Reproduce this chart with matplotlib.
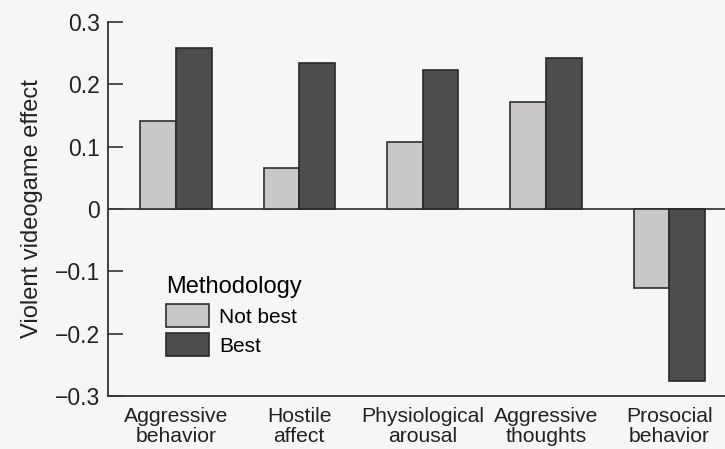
import matplotlib
matplotlib.use("Agg")
import matplotlib.pyplot as plt
import numpy as np

categories = ["Aggressive\nbehavior", "Hostile\naffect", "Physiological\narousal",
              "Aggressive\nthoughts", "Prosocial\nbehavior"]
not_best = [0.141, 0.066, 0.108, 0.172, -0.127]
best = [0.258, 0.234, 0.223, 0.243, -0.276]
yticks = [-0.3, -0.2, -0.1, 0, 0.1, 0.2, 0.3]
ytick_labels = ["\u22120.3", "\u22120.2", "\u22120.1", "0", "0.1", "0.2", "0.3"]

plt.rcParams["font.family"] = ["Liberation Sans", "DejaVu Sans"]

bg = "#f6f6f4"
fig = plt.figure(figsize=(7.25, 4.49), dpi=100, facecolor=bg)
ax = fig.add_axes([0.149, 0.118, 0.851, 0.833], facecolor=bg)

x = np.arange(len(categories))
w = 0.29
ax.bar(x - w / 2, not_best, w, color="#c9c8c6", edgecolor="#2e2e2e", linewidth=1.2, label="Not best", zorder=3)
ax.bar(x + w / 2, best, w, color="#4d4d4d", edgecolor="#2a2a2a", linewidth=1.2, label="Best", zorder=3)
ax.axhline(0, color="#3a3a3a", linewidth=1.3, zorder=2)

ax.set_xlim(-0.55, 4.45)
ax.set_ylim(-0.3, 0.3)
ax.set_yticks(yticks)
ax.set_yticklabels(ytick_labels, fontsize=16.5, color="#222222")
ax.set_xticks(x)
ax.set_xticklabels(categories, fontsize=15.2, color="#222222", linespacing=1.05)
ax.tick_params(axis="y", direction="in", length=11, width=1.2, color="#333333", pad=6)
ax.tick_params(axis="x", length=0, pad=8)
ax.set_ylabel("Violent videogame effect", fontsize=17, color="#222222", labelpad=8)

for side in ["top", "right"]:
    ax.spines[side].set_visible(False)
for side in ["left", "bottom"]:
    ax.spines[side].set_color("#333333")
    ax.spines[side].set_linewidth(1.3)

leg = ax.legend(title="Methodology", loc="upper left",
                bbox_to_anchor=(166 / 725, 1 - 276 / 449), bbox_transform=fig.transFigure,
                borderaxespad=0, borderpad=0,
                frameon=False, fontsize=15, title_fontsize=17,
                handlelength=2.05, handleheight=1.3, handletextpad=0.5,
                labelspacing=0.3, alignment="left")

fig.savefig("out.png", dpi=100, facecolor=bg)
